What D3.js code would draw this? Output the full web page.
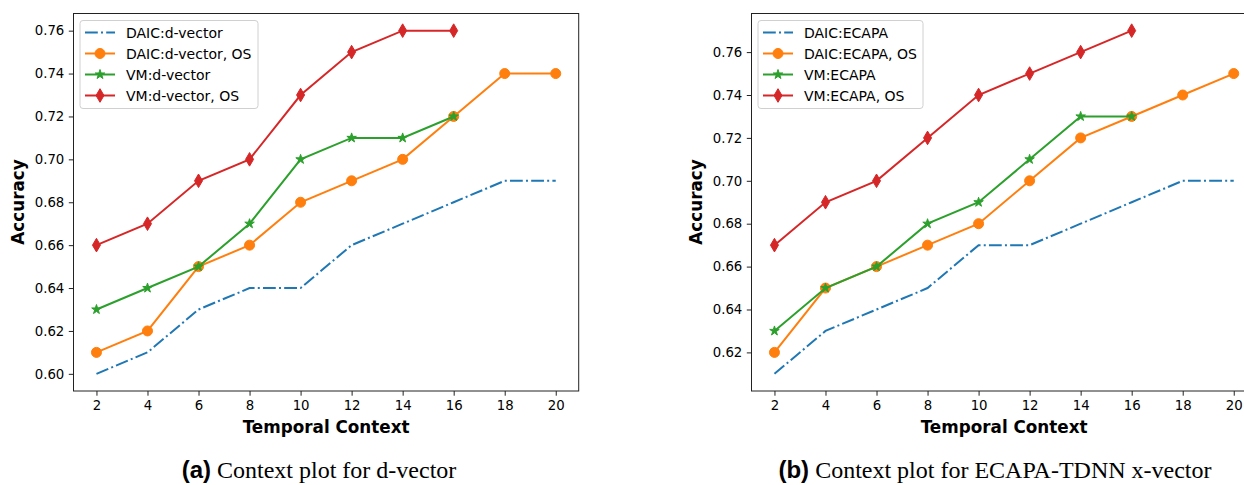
<!DOCTYPE html>
<html>
<head>
<meta charset="utf-8">
<script src="https://cdn.jsdelivr.net/npm/d3@7"></script>
<style>
  body { margin: 0; background: #fff; }
  text { font-family: "DejaVu Sans", sans-serif; }
</style>
</head>
<body>
<script>
// temporal context values (x axis)
var contexts = [2, 4, 6, 8, 10, 12, 14, 16, 18, 20];
var xTicks = [2, 4, 6, 8, 10, 12, 14, 16, 18, 20];

// panel (a) d-vector
var daicDvec = [0.60, 0.61, 0.63, 0.64, 0.64, 0.66, 0.67, 0.68, 0.69, 0.69];
var daicDvecOS = [0.61, 0.62, 0.65, 0.66, 0.68, 0.69, 0.70, 0.72, 0.74, 0.74];
var vmDvec = [0.63, 0.64, 0.65, 0.67, 0.70, 0.71, 0.71, 0.72];
var vmDvecOS = [0.66, 0.67, 0.69, 0.70, 0.73, 0.75, 0.76, 0.76];
var yTicksA = [0.60, 0.62, 0.64, 0.66, 0.68, 0.70, 0.72, 0.74, 0.76];

// panel (b) ECAPA
var daicEcapa = [0.61, 0.63, 0.64, 0.65, 0.67, 0.67, 0.68, 0.69, 0.70, 0.70];
var daicEcapaOS = [0.62, 0.65, 0.66, 0.67, 0.68, 0.70, 0.72, 0.73, 0.74, 0.75];
var vmEcapa = [0.63, 0.65, 0.66, 0.68, 0.69, 0.71, 0.73, 0.73];
var vmEcapaOS = [0.67, 0.69, 0.70, 0.72, 0.74, 0.75, 0.76, 0.77];
var yTicksB = [0.62, 0.64, 0.66, 0.68, 0.70, 0.72, 0.74, 0.76];

var colors = ["#1f77b4", "#ff7f0e", "#2ca02c", "#d62728"];
var markers = ["none", "circle", "star", "diamond"];

var svg = d3.select("body").append("svg")
    .attr("width", 1244)
    .attr("height", 485);

function markerPath(kind) {
    if (kind === "circle") return d3.symbol().type(d3.symbolCircle).size(Math.PI * 5 * 5)();
    if (kind === "star") return d3.symbol().type(d3.symbolStar).size(28)();
    if (kind === "diamond") return "M0,-6.8L4,0L0,6.8L-4,0Z";
    return null;
}

function drawPanel(cfg) {
    var x = d3.scaleLinear().domain([1.1, 20.9]).range([cfg.left, cfg.left + 505.2]);
    var y = d3.scaleLinear().domain(cfg.yDomain).range([391, 13.5]);

    var g = svg.append("g");

    // lines
    var line = d3.line()
        .x(function (d) { return x(d.x); })
        .y(function (d) { return y(d.y); });

    cfg.series.forEach(function (s, i) {
        var pts = s.values.map(function (v, j) { return { x: contexts[j], y: v }; });
        g.append("path")
            .datum(pts)
            .attr("d", line)
            .attr("fill", "none")
            .attr("stroke", colors[i])
            .attr("stroke-width", 2)
            .attr("stroke-dasharray", i === 0 ? "12.8,3.2,2,3.2" : null);
        if (markers[i] !== "none") {
            g.selectAll(".m" + i)
                .data(pts)
                .enter()
                .append("path")
                .attr("class", "m" + i)
                .attr("d", markerPath(markers[i]))
                .attr("transform", function (d) { return "translate(" + x(d.x) + "," + y(d.y) + ")"; })
                .attr("fill", colors[i])
                .attr("stroke", colors[i])
                .attr("stroke-width", 1);
        }
    });

    // frame
    svg.append("rect")
        .attr("x", x.range()[0]).attr("y", 13.5)
        .attr("width", x.range()[1] - x.range()[0])
        .attr("height", 391 - 13.5)
        .attr("fill", "none")
        .attr("stroke", "#222")
        .attr("stroke-width", 1);

    // axes
    var xAxis = svg.append("g")
        .attr("transform", "translate(0,391)")
        .call(d3.axisBottom(x).tickValues(xTicks).tickSize(4.7).tickPadding(4.5).tickFormat(d3.format("d")));
    var yAxis = svg.append("g")
        .attr("transform", "translate(" + cfg.left + ",0)")
        .call(d3.axisLeft(y).tickValues(cfg.yTicks).tickSize(4.7).tickPadding(4.5).tickFormat(d3.format(".2f")));
    [xAxis, yAxis].forEach(function (a) {
        a.select(".domain").remove();
        a.selectAll(".tick line").attr("stroke", "#222");
        a.selectAll(".tick text")
            .attr("font-family", "DejaVu Sans")
            .attr("font-size", 13.3)
            .attr("fill", "#000");
    });

    // axis labels
    svg.append("text")
        .attr("x", (x.range()[0] + x.range()[1]) / 2)
        .attr("y", 433)
        .attr("text-anchor", "middle")
        .attr("font-size", 16.8)
        .attr("font-weight", "bold")
        .text("Temporal Context");
    svg.append("text")
        .attr("transform", "translate(" + (cfg.left - 50) + ",202) rotate(-90)")
        .attr("text-anchor", "middle")
        .attr("font-size", 16.8)
        .attr("font-weight", "bold")
        .text("Accuracy");

    // legend
    var lg = svg.append("g").attr("transform", "translate(" + (cfg.left + 6.5) + ",20.5)");
    lg.append("rect")
        .attr("width", cfg.legendW).attr("height", 88)
        .attr("rx", 3)
        .attr("fill", "#fff").attr("fill-opacity", 0.8)
        .attr("stroke", "#d0d0d0").attr("stroke-width", 1);
    cfg.series.forEach(function (s, i) {
        var ly = 12 + i * 21;
        lg.append("line")
            .attr("x1", 5).attr("x2", 35).attr("y1", ly).attr("y2", ly)
            .attr("stroke", colors[i]).attr("stroke-width", 2)
            .attr("stroke-dasharray", i === 0 ? "12.8,3.2,2,3.2" : null);
        if (markers[i] !== "none") {
            lg.append("path")
                .attr("d", markerPath(markers[i]))
                .attr("transform", "translate(20," + ly + ")")
                .attr("fill", colors[i]).attr("stroke", colors[i]);
        }
        lg.append("text")
            .attr("x", 46).attr("y", ly + 5)
            .attr("font-size", 14)
            .text(s.name);
    });

    // caption
    var cap = svg.append("text")
        .attr("x", cfg.capX).attr("y", 478)
        .attr("text-anchor", "middle")
        .attr("font-size", 24);
    cap.append("tspan")
        .attr("font-family", "Liberation Sans")
        .attr("font-weight", "bold")
        .text(cfg.capTag);
    cap.append("tspan")
        .attr("font-family", "Liberation Serif")
        .text(" " + cfg.capText);
}

drawPanel({
    id: "a",
    left: 73.5,
    yDomain: [0.592, 0.768],
    yTicks: yTicksA,
    legendW: 178,
    capX: 319,
    capTag: "(a)",
    capText: "Context plot for d-vector",
    series: [
        { name: "DAIC:d-vector", values: daicDvec },
        { name: "DAIC:d-vector, OS", values: daicDvecOS },
        { name: "VM:d-vector", values: vmDvec },
        { name: "VM:d-vector, OS", values: vmDvecOS }
    ]
});

drawPanel({
    id: "b",
    left: 751.5,
    yDomain: [0.602, 0.778],
    yTicks: yTicksB,
    legendW: 165,
    capX: 995,
    capTag: "(b)",
    capText: "Context plot for ECAPA-TDNN x-vector",
    series: [
        { name: "DAIC:ECAPA", values: daicEcapa },
        { name: "DAIC:ECAPA, OS", values: daicEcapaOS },
        { name: "VM:ECAPA", values: vmEcapa },
        { name: "VM:ECAPA, OS", values: vmEcapaOS }
    ]
});
</script>
</body>
</html>
